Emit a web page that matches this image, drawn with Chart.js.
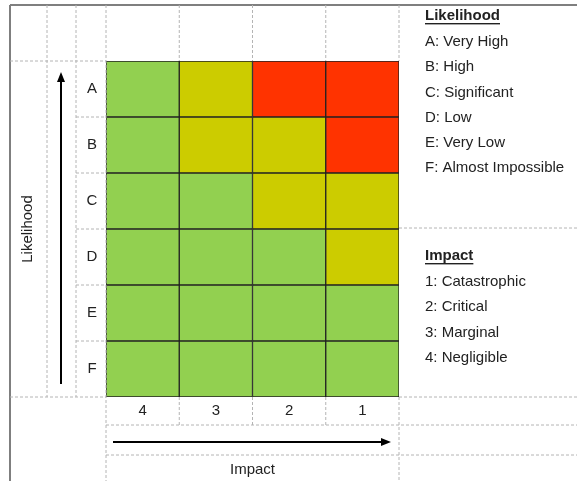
<!DOCTYPE html>
<html>
<head>
<meta charset="utf-8">
<script src="https://cdn.jsdelivr.net/npm/chart.js@4"></script>
<style>
    body { margin: 0; background: #fff; }
    canvas { display: block; }
</style>
</head>
<body>
<canvas id="graficoRisco" width="577" height="481"></canvas>
<script>
// dados da matriz
var impactLabels = ['4', '3', '2', '1'];
var likelihoodLabels = ['A', 'B', 'C', 'D', 'E', 'F'];
// nivel de risco por linha (A no topo), colunas na ordem de impactLabels
var riskA = ['G', 'Y', 'R', 'R'];
var riskB = ['G', 'Y', 'Y', 'R'];
var riskC = ['G', 'G', 'Y', 'Y'];
var riskD = ['G', 'G', 'G', 'Y'];
var riskE = ['G', 'G', 'G', 'G'];
var riskF = ['G', 'G', 'G', 'G'];
var likelihoodKey = ['A: Very High', 'B: High', 'C: Significant', 'D: Low', 'E: Very Low', 'F: Almost Impossible'];
var impactKey = ['1: Catastrophic', '2: Critical', '3: Marginal', '4: Negligible'];

var cores = { G: '#92D050', Y: '#CCCC00', R: '#FF3300' };
var linhas = [riskA, riskB, riskC, riskD, riskE, riskF];

function PegarCores(linha) {
    return linha.map(function (n) { return cores[n]; });
}

// datasets empilhados de baixo (F) para cima (A)
var datasets = [];
for (var i = linhas.length - 1; i >= 0; i--) {
    datasets.push({
        label: likelihoodLabels[i],
        data: impactLabels.map(function () { return 1; }),
        backgroundColor: PegarCores(linhas[i]),
        borderColor: '#222',
        borderWidth: 1,
        borderSkipped: false,
        barPercentage: 1,
        categoryPercentage: 1
    });
}

var fonte = '15px "Liberation Sans", Arial, sans-serif';
var fonteBold = 'bold 15px "Liberation Sans", Arial, sans-serif';

function linha(ctx, x1, y1, x2, y2, tracejado) {
    ctx.save();
    ctx.beginPath();
    if (tracejado) {
        ctx.setLineDash([3, 2]);
        ctx.strokeStyle = '#b4b4b4';
        ctx.lineWidth = 1;
    } else {
        ctx.strokeStyle = '#7f7f7f';
        ctx.lineWidth = 2;
    }
    ctx.moveTo(x1, y1);
    ctx.lineTo(x2, y2);
    ctx.stroke();
    ctx.restore();
}

function seta(ctx, x1, y1, x2, y2) {
    var ang = Math.atan2(y2 - y1, x2 - x1);
    ctx.save();
    ctx.strokeStyle = '#000';
    ctx.fillStyle = '#000';
    ctx.lineWidth = 2;
    ctx.beginPath();
    ctx.moveTo(x1, y1);
    ctx.lineTo(x2 - 6 * Math.cos(ang), y2 - 6 * Math.sin(ang));
    ctx.stroke();
    ctx.translate(x2, y2);
    ctx.rotate(ang);
    ctx.beginPath();
    ctx.moveTo(0, 0);
    ctx.lineTo(-10, -4);
    ctx.lineTo(-10, 4);
    ctx.closePath();
    ctx.fill();
    ctx.restore();
}

function sublinhado(ctx, texto, x, y) {
    ctx.fillText(texto, x, y);
    var w = ctx.measureText(texto).width;
    ctx.fillRect(x, y + 7, w, 1.4);
}

var molduraPlugin = {
    id: 'moldura',
    afterDraw: function (chart) {
        var ctx = chart.ctx;
        var xs = chart.scales.x;
        var ys = chart.scales.y;
        var area = chart.chartArea;
        var W = chart.width, H = chart.height;
        var colLetra = 76, colSeta = 47;

        // bordas externas
        linha(ctx, 10, 5, 10, H, false);
        linha(ctx, 10, 5, W, 5, false);

        // linhas tracejadas da tabela
        linha(ctx, colSeta, 5, colSeta, area.bottom, true);
        linha(ctx, colLetra, 5, colLetra, area.bottom, true);
        linha(ctx, area.left, 5, area.left, H, true);
        linha(ctx, area.right, 5, area.right, area.top, true);
        linha(ctx, area.right, area.bottom, area.right, H, true);
        linha(ctx, 10, area.top, area.left, area.top, true);
        linha(ctx, 10, area.bottom, area.left, area.bottom, true);
        linha(ctx, area.right, area.bottom, W, area.bottom, true);
        linha(ctx, area.right, 228, W, 228, true);
        var yTick = area.bottom + 28, ySeta = area.bottom + 58;
        linha(ctx, area.left, yTick, W, yTick, true);
        linha(ctx, area.left, ySeta, W, ySeta, true);
        for (var c = 1; c < impactLabels.length; c++) {
            var xc = (xs.getPixelForValue(c - 1) + xs.getPixelForValue(c)) / 2;
            linha(ctx, xc, 5, xc, area.top, true);
            linha(ctx, xc, area.bottom, xc, yTick, true);
        }
        for (var r = 1; r < likelihoodLabels.length; r++) {
            var yr = ys.getPixelForValue(r);
            linha(ctx, colLetra, yr, area.left, yr, true);
        }

        ctx.save();
        ctx.fillStyle = '#222';
        ctx.font = fonte;
        ctx.textAlign = 'center';
        ctx.textBaseline = 'middle';

        // letras da probabilidade
        likelihoodLabels.forEach(function (l, i) {
            var yc = ys.getPixelForValue(likelihoodLabels.length - i - 0.5);
            ctx.fillText(l, (colLetra + area.left) / 2 + 1, yc);
        });
        // rotulos de impacto
        impactLabels.forEach(function (l, i) {
            ctx.fillText(l, xs.getPixelForValue(i), area.bottom + 14);
        });
        ctx.fillText('Impact', (area.left + area.right) / 2, 470);

        ctx.save();
        ctx.translate(28, (area.top + area.bottom) / 2);
        ctx.rotate(-Math.PI / 2);
        ctx.fillText('Likelihood', 0, 0);
        ctx.restore();

        // legenda da direita
        ctx.textAlign = 'left';
        var xl = 425;
        ctx.font = fonteBold;
        sublinhado(ctx, 'Likelihood', xl, 16);
        ctx.font = fonte;
        likelihoodKey.forEach(function (t, i) {
            ctx.fillText(t, xl, 42 + i * 25.2);
        });
        ctx.font = fonteBold;
        sublinhado(ctx, 'Impact', xl, 256);
        ctx.font = fonte;
        impactKey.forEach(function (t, i) {
            ctx.fillText(t, xl, 282 + i * 25.3);
        });
        ctx.restore();

        // setas
        seta(ctx, 61, 384, 61, 72);
        seta(ctx, 113, 442, 391, 442);
    }
};

var ctx = document.getElementById('graficoRisco').getContext('2d');

var grafico = new Chart(ctx, {
    type: 'bar',
    data: {
        labels: impactLabels,
        datasets: datasets
    },
    options: {
        responsive: false,
        animation: false,
        layout: {
            padding: { left: 106, top: 61, right: 178, bottom: 84 }
        },
        scales: {
            x: { display: false, stacked: true, offset: true },
            y: { display: false, stacked: true, min: 0, max: 6 }
        },
        plugins: {
            legend: { display: false },
            title: { display: false },
            tooltip: { enabled: false }
        }
    },
    plugins: [molduraPlugin]
});
</script>
</body>
</html>
